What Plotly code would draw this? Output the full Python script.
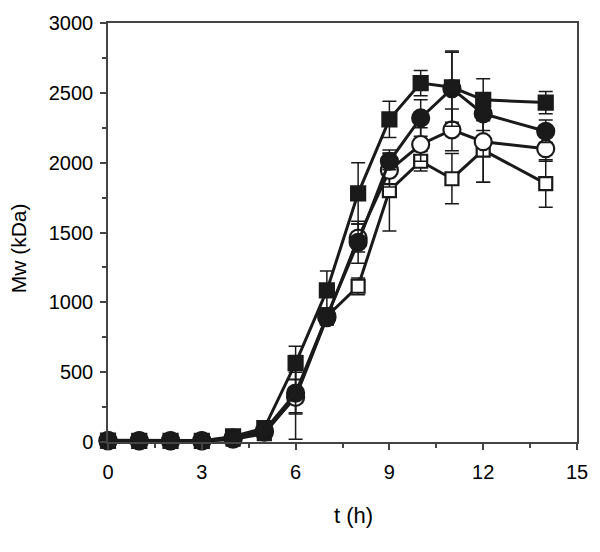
import plotly.graph_objects as go

# sampling times (h)
t = [0, 1, 2, 3, 4, 5, 6, 7, 8, 9, 10, 11, 12, 14]

# Mw (kDa) per series, with standard deviation
mw_filled_sq = [10, 8, 8, 8, 40, 100, 565, 1085, 1780, 2310, 2570, 2540, 2450, 2430]
sd_filled_sq = [5, 5, 5, 5, 20, 30, 120, 140, 220, 130, 90, 250, 150, 80]

mw_filled_ci = [12, 10, 10, 10, 30, 80, 350, 900, 1430, 2010, 2320, 2530, 2350, 2225]
sd_filled_ci = [5, 5, 5, 5, 15, 30, 150, 60, 150, 60, 130, 270, 120, 80]

mw_open_ci = [8, 8, 8, 8, 20, 70, 320, 890, 1460, 1945, 2130, 2235, 2150, 2100]
sd_open_ci = [5, 5, 5, 5, 15, 30, 300, 50, 100, 120, 120, 150, 290, 90]

mw_open_sq = [5, 5, 5, 5, 20, 60, 330, 900, 1115, 1800, 2010, 1885, 2090, 1850]
sd_open_sq = [5, 5, 5, 5, 15, 30, 120, 60, 60, 290, 70, 180, 230, 170]

ink = "#1a1a1a"
font = "Liberation Sans, Arial"

series = [
    (mw_open_sq, sd_open_sq, "square", "white", 13),
    (mw_open_ci, sd_open_ci, "circle", "white", 17),
    (mw_filled_ci, sd_filled_ci, "circle", ink, 17),
    (mw_filled_sq, sd_filled_sq, "square", ink, 14),
]

fig = go.Figure()
for y, sd, sym, fill, size in series:
    fig.add_trace(go.Scatter(
        x=t, y=y, mode="lines+markers", cliponaxis=False,
        line=dict(color=ink, width=3),
        marker=dict(symbol=sym, size=size, color=fill, line=dict(color=ink, width=2.2)),
        error_y=dict(type="data", array=sd, color=ink, thickness=1.5, width=7),
        showlegend=False,
    ))

axis_common = dict(
    showline=True, linecolor="#444", linewidth=1.5, mirror=True,
    ticks="outside", ticklen=6, tickcolor="#444", tickwidth=1.5,
    showgrid=False, zeroline=False,
    tickfont=dict(family=font, size=20, color="black"),
)

fig.update_xaxes(
    range=[0, 15], tickvals=[0, 3, 6, 9, 12, 15], ticklabelstandoff=5,
    minor=dict(ticks="outside", ticklen=4, tickcolor="#444", tickwidth=1.5, dtick=1.5, tick0=0),
    **axis_common,
)
fig.update_yaxes(
    range=[0, 3000], tickvals=[0, 500, 1000, 1500, 2000, 2500, 3000], ticklabelstandoff=3,
    minor=dict(ticks="outside", ticklen=4, tickcolor="#444", tickwidth=1.5, dtick=250, tick0=0),
    **axis_common,
)

# axis titles as annotations so they sit where the original has them
fig.add_annotation(text="t (h)", xref="paper", yref="paper", x=0.524, y=-0.176,
                   xanchor="center", yanchor="middle",
                   showarrow=False, font=dict(family=font, size=22, color="black"))
fig.add_annotation(text="Mw (kDa)", xref="paper", yref="paper", x=-0.19, y=0.462,
                   xanchor="center", yanchor="middle", textangle=-90,
                   showarrow=False, font=dict(family=font, size=21, color="black"))

fig.update_layout(
    width=600, height=552,
    margin=dict(l=108, r=17, t=22, b=110),
    plot_bgcolor="white", paper_bgcolor="white",
)

fig.write_html("out.html", config={"displayModeBar": False},
               post_script="document.body.style.margin='0';")
